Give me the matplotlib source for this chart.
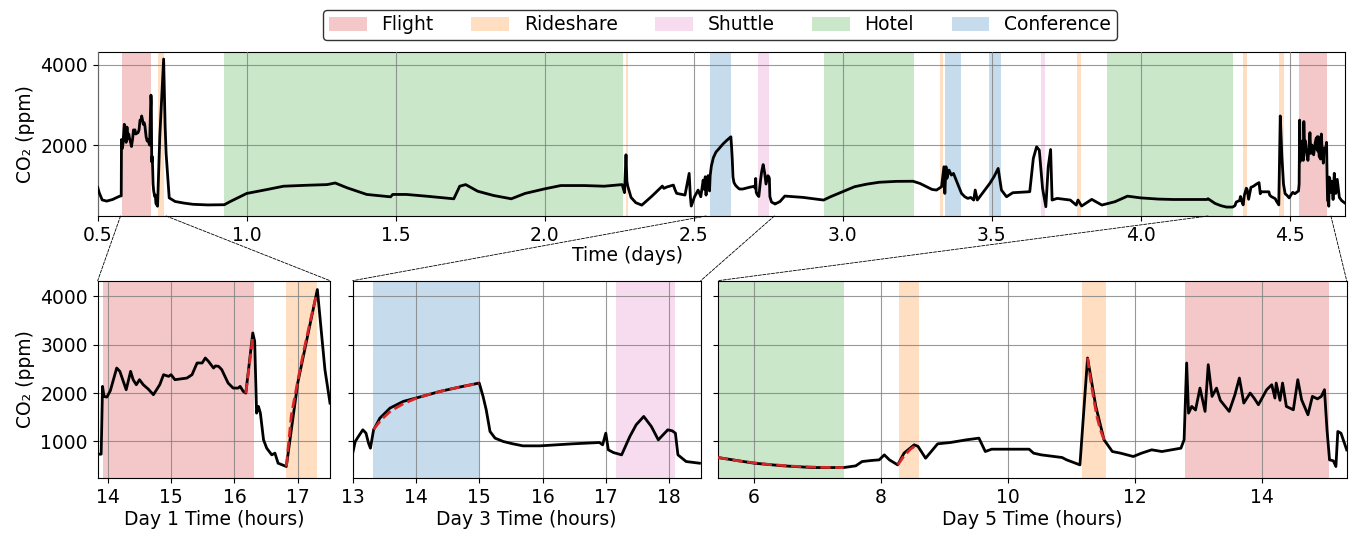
import numpy as np
import matplotlib
matplotlib.use("Agg")
import matplotlib.pyplot as plt
from matplotlib.patches import ConnectionPatch, Patch

# ---------------- data ----------------
# coarse CO2 series outside the zoomed windows (time in days)
base_days = [0.500, 0.505, 0.515, 0.530, 0.550, 0.570,
             0.735, 0.740, 0.760, 0.790, 0.820, 0.870, 0.925, 0.945, 1.000, 1.070,
             1.124, 1.204, 1.270, 1.297, 1.337, 1.403, 1.470, 1.483, 1.490, 1.536,
             1.602, 1.695, 1.715, 1.735, 1.775, 1.828, 1.888, 1.934, 2.000, 2.054,
             2.133, 2.200, 2.260, 2.268, 2.273, 2.276, 2.279, 2.290, 2.306, 2.326,
             2.360, 2.387, 2.395, 2.400, 2.410, 2.432, 2.438, 2.443, 2.471, 2.485,
             2.489, 2.492, 2.503, 2.515, 2.524, 2.532, 2.536, 2.539,
             2.773, 2.790, 2.806, 2.867, 2.936, 2.960, 3.000, 3.040, 3.080, 3.123,
             3.180, 3.236, 3.259, 3.300, 3.315, 3.332, 3.340, 3.343, 3.347, 3.350,
             3.357, 3.365, 3.372, 3.399, 3.410, 3.420, 3.430, 3.440, 3.445, 3.452,
             3.494, 3.508, 3.522, 3.533, 3.550, 3.571, 3.628, 3.640, 3.651, 3.660,
             3.671, 3.682, 3.690, 3.698, 3.703, 3.720, 3.764, 3.784, 3.790, 3.802,
             3.836, 3.870, 3.914, 3.956, 4.000, 4.060, 4.110, 4.170, 4.222,
             4.642, 4.646, 4.650, 4.655, 4.660, 4.667, 4.675, 4.686]
base_co2 = [950, 820, 640, 610, 650, 720,
            1200, 690, 600, 560, 530, 515, 520, 600, 800, 900,
            980, 1004, 1020, 1060, 940, 775, 725, 716, 775, 775,
            733, 667, 980, 1020, 856, 750, 667, 800, 914, 996,
            996, 980, 1020, 820, 1760, 1100, 980, 700, 570, 510,
            733, 926, 983, 926, 960, 1008, 884, 802, 760, 1298,
            718, 487, 718, 884, 718, 1132, 900, 1215,
            537, 600, 735, 702, 636, 720, 843, 967, 1030, 1078,
            1100, 1103, 1050, 900, 884, 967, 1463, 801, 1463, 1173,
            1380, 1256, 1297, 801, 718, 677, 700, 636, 884, 636,
            1050, 1215, 1421, 884, 718, 818, 843, 1670, 1959, 1876,
            926, 470, 1463, 1891, 636, 677, 636, 512, 636, 487,
            653, 512, 595, 733, 690, 660, 650, 650, 650,
            1100, 650, 1300, 800, 1150, 700, 620, 560]

# Day 1 window (hours)
d1_hours = [13.84, 13.895, 13.916, 13.94, 13.985, 14.04, 14.14, 14.19, 14.29, 14.36,
            14.40, 14.45, 14.50, 14.56, 14.64, 14.72, 14.82, 14.88, 14.96, 15.00,
            15.06, 15.25, 15.33, 15.41, 15.49, 15.54, 15.59, 15.67, 15.70, 15.75,
            15.80, 15.90, 15.98, 16.06, 16.09, 16.14, 16.18, 16.29, 16.32, 16.35,
            16.38, 16.41, 16.46, 16.51, 16.59, 16.64, 16.69, 16.82, 17.00, 17.31,
            17.43, 17.51]
d1_co2 = [738, 738, 2138, 1931, 1917, 2050, 2517, 2448, 2069, 2448,
          2276, 2172, 2276, 2172, 2080, 1966, 2172, 2379, 2345, 2379,
          2276, 2310, 2379, 2621, 2621, 2724, 2655, 2517, 2560, 2552,
          2483, 2207, 2103, 2103, 2138, 2034, 2000, 3241, 3069, 1586,
          1724, 1586, 1034, 862, 724, 759, 552, 483, 2207, 4138,
          2483, 1793]

# Day 3 window (hours)
d3_hours = [13.00, 13.04, 13.09, 13.16, 13.21, 13.25, 13.28, 13.33, 13.43, 13.59,
            13.80, 14.00, 14.38, 14.69, 15.00, 15.06, 15.11, 15.17, 15.25, 15.38,
            15.53, 15.69, 15.96, 16.48, 16.90, 16.95, 17.00, 17.04, 17.12, 17.25,
            17.38, 17.48, 17.60, 17.72, 17.83, 17.98, 18.05, 18.10, 18.14, 18.27,
            18.48]
d3_co2 = [759, 1000, 1103, 1241, 1172, 966, 862, 1241, 1483, 1690,
          1828, 1897, 2034, 2124, 2207, 1931, 1655, 1207, 1069, 1000,
          952, 910, 910, 952, 979, 931, 1172, 828, 772, 724,
          1103, 1345, 1517, 1310, 1034, 1241, 1220, 1172, 724, 586,
          552]

# Day 5 window (hours)
d5_hours = [5.43, 6.00, 6.46, 6.92, 7.41, 7.60, 7.70, 7.84, 7.97, 8.05,
            8.13, 8.26, 8.36, 8.52, 8.58, 8.70, 8.89, 9.09, 9.34, 9.54,
            9.64, 9.74, 10.33, 10.40, 10.52, 10.85, 10.92, 11.13, 11.25, 11.38,
            11.51, 11.64, 11.77, 11.97, 12.10, 12.26, 12.42, 12.72, 12.77, 12.81,
            12.84, 12.89, 12.95, 13.02, 13.10, 13.15, 13.21, 13.28, 13.34, 13.48,
            13.57, 13.64, 13.71, 13.81, 13.87, 13.94, 14.07, 14.15, 14.20, 14.22,
            14.28, 14.32, 14.38, 14.49, 14.56, 14.62, 14.72, 14.79, 14.87, 14.93,
            14.98, 15.02, 15.06, 15.12, 15.16, 15.19, 15.24, 15.33]
d5_co2 = [669, 552, 497, 462, 462, 497, 586, 607, 621, 724,
          621, 517, 759, 931, 900, 655, 952, 979, 1034, 1069,
          793, 841, 841, 759, 724, 669, 621, 517, 2724, 1724,
          1034, 793, 759, 690, 759, 828, 793, 862, 1034, 2621,
          1586, 1724, 1650, 2103, 1621, 2586, 1931, 2103, 1850, 1621,
          1966, 2310, 1793, 2000, 1900, 1759, 2069, 2172, 1897, 2207,
          1850, 2207, 1724, 1655, 2276, 1862, 1552, 1931, 1880, 1930,
          2069, 1241, 621, 600, 483, 1207, 1172, 828]

# red dashed fits (hours)
fit1a_h = [16.18, 16.29]
fit1a_v = [2000, 3150]
fit1b_h = [16.82, 16.90, 17.00, 17.10, 17.20, 17.29]
fit1b_v = [483, 1550, 2250, 2900, 3500, 4000]
fit3_h = [13.33, 13.45, 13.60, 13.80, 14.00, 14.25, 14.50, 14.75, 15.00]
fit3_v = [1250, 1450, 1630, 1780, 1890, 1990, 2070, 2140, 2200]
fit5a_h = [5.43, 5.80, 6.20, 6.60, 7.00, 7.41]
fit5a_v = [669, 590, 530, 490, 468, 460]
fit5b_h = [8.26, 8.36, 8.46, 8.56]
fit5b_v = [517, 700, 840, 930]
fit5c_h = [11.25, 11.30, 11.35, 11.40, 11.45, 11.51]
fit5c_v = [2724, 2250, 1850, 1500, 1250, 1034]

# activity spans (days)
span_cat = ["Flight", "Flight",
            "Rideshare", "Rideshare", "Rideshare", "Rideshare", "Rideshare", "Rideshare",
            "Shuttle", "Shuttle",
            "Hotel", "Hotel", "Hotel",
            "Conference", "Conference", "Conference"]
span_start = [0.580, 4.533,
              0.7008, 2.273, 3.326, 3.787, 4.345, 4.465,
              2.715, 3.667,
              0.925, 2.936, 3.886,
              2.555, 3.342, 3.490]
span_end = [0.6795, 4.627,
            0.7209, 2.281, 3.338, 3.800, 4.358, 4.481,
            2.754, 3.680,
            2.264, 3.239, 4.309,
            2.625, 3.398, 3.532]

categories = ["Flight", "Rideshare", "Shuttle", "Hotel", "Conference"]
cat_colors = {"Flight": "tab:red", "Rideshare": "tab:orange", "Shuttle": "tab:pink",
              "Hotel": "tab:green", "Conference": "tab:blue"}

# zoom windows: (day offset, hour xlim)
win_offset = [0, 2, 4]
win_xlim = [(13.84, 17.51), (13.0, 18.5), (5.43, 15.33)]
win_label = ["Day 1 Time (hours)", "Day 3 Time (hours)", "Day 5 Time (hours)"]

# ---------------- build full series ----------------
t_all = list(base_days)
v_all = list(base_co2)
for off, hrs, vals in zip(win_offset, [d1_hours, d3_hours, d5_hours], [d1_co2, d3_co2, d5_co2]):
    t_all += [off + h / 24.0 for h in hrs]
    v_all += vals
order = np.argsort(t_all)
t_all = np.array(t_all)[order]
v_all = np.array(v_all)[order]

FS = 13.5
plt.rcParams.update({"font.size": FS, "font.family": "DejaVu Sans"})
YL = (240, 4320)

fig = plt.figure(figsize=(13.51, 5.37), dpi=100)
W, H = 1351.0, 537.0

def axbox(l, r, t, b):
    return [l / W, 1 - b / H, (r - l) / W, (b - t) / H]

ax_top = fig.add_axes(axbox(97.7, 1345, 51.7, 216))
bot_px = [(97.7, 330.0), (352.7, 700.7), (717.9, 1346.7)]
ax_bots = [fig.add_axes(axbox(l, r, 280.7, 478.3)) for l, r in bot_px]

grid_kw = dict(color="gray", lw=0.8, alpha=0.8)

# top panel
for c, s, e in zip(span_cat, span_start, span_end):
    ax_top.axvspan(s, e, color=cat_colors[c], alpha=0.25, lw=0, zorder=0)
ax_top.plot(t_all, v_all, color="black", lw=2.0, zorder=3)
ax_top.set_xlim(0.5, 4.686)
ax_top.set_ylim(*YL)
ax_top.set_yticks([2000, 4000])
ax_top.set_xticks([0.5, 1.0, 1.5, 2.0, 2.5, 3.0, 3.5, 4.0, 4.5])
ax_top.grid(True, **grid_kw)
ax_top.set_axisbelow(False)
ax_top.set_ylabel("CO₂ (ppm)")
ax_top.set_xlabel("Time (days)", x=0.4244, labelpad=1)

fits = [[(fit1a_h, fit1a_v), (fit1b_h, fit1b_v)],
        [(fit3_h, fit3_v)],
        [(fit5a_h, fit5a_v), (fit5b_h, fit5b_v), (fit5c_h, fit5c_v)]]
series = [(d1_hours, d1_co2), (d3_hours, d3_co2), (d5_hours, d5_co2)]

for i, ax in enumerate(ax_bots):
    off = win_offset[i]
    for c, s, e in zip(span_cat, span_start, span_end):
        ax.axvspan((s - off) * 24, (e - off) * 24, color=cat_colors[c], alpha=0.25, lw=0, zorder=0)
    hrs, vals = series[i]
    ax.plot(hrs, vals, color="black", lw=2.0, zorder=3)
    for fh, fv in fits[i]:
        ax.plot(fh, fv, color="tab:red", ls="--", lw=2.0, zorder=4)
    ax.set_xlim(*win_xlim[i])
    ax.set_ylim(*YL)
    ax.set_yticks([1000, 2000, 3000, 4000])
    ax.grid(True, **grid_kw)
    ax.set_xlabel(win_label[i], labelpad=2)
    if i > 0:
        ax.set_yticklabels([])
    else:
        ax.set_ylabel("CO₂ (ppm)")
    # connection lines
    x0 = off + win_xlim[i][0] / 24.0
    x1 = off + win_xlim[i][1] / 24.0
    for xa, xb in [(x0, 0), (x1, 1)]:
        con = ConnectionPatch(xyA=(xa, YL[0]), coordsA=ax_top.transData,
                              xyB=(xb, 1), coordsB=ax.transAxes,
                              ls="--", lw=0.6, color="black")
        fig.add_artist(con)

ax_bots[2].set_xticks([6, 8, 10, 12, 14])

handles = [Patch(facecolor=cat_colors[c], alpha=0.25, label=c) for c in categories]
leg = fig.legend(handles=handles, loc="center", bbox_to_anchor=(720 / W, 1 - 25 / H),
                 ncol=5, frameon=True, edgecolor="black", fancybox=True,
                 columnspacing=2.0, handlelength=2.0, borderpad=0.3)
leg.get_frame().set_linewidth(1.0)

fig.savefig("out.png", dpi=100)
